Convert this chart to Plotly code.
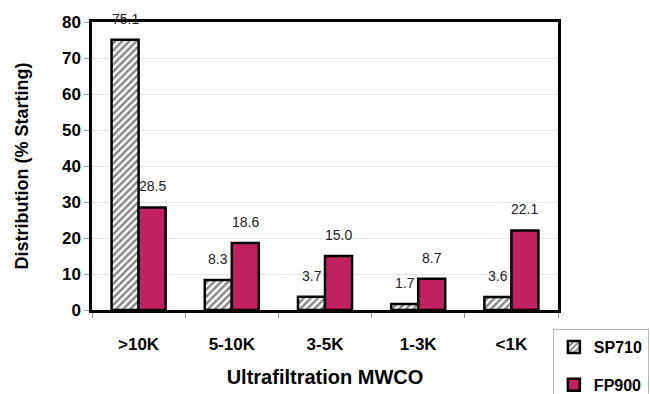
import plotly.graph_objects as go

categories = [">10K", "5-10K", "3-5K", "1-3K", "<1K"]
sp710 = [75.1, 8.3, 3.7, 1.7, 3.6]
fp900 = [28.5, 18.6, 15.0, 8.7, 22.1]
label_sp = ["75.1", "8.3", "3.7", "1.7", "3.6"]
label_fp = ["28.5", "18.6", "15.0", "8.7", "22.1"]

BOLD = "Liberation Sans, Arial, sans-serif"

fig = go.Figure()
fig.add_trace(go.Bar(
    name="SP710", x=categories, y=sp710, legendgroup="a",
    marker=dict(color="white", line=dict(color="black", width=2.5),
                pattern=dict(shape="/", fgcolor="#111111", bgcolor="white", size=5, solidity=0.5)),
))
fig.add_trace(go.Bar(
    name="FP900", x=categories, y=fp900, legendgroup="b",
    marker=dict(color="#C0215F", line=dict(color="black", width=2.5)),
))

annotations = []
for i, c in enumerate(categories):
    annotations.append(dict(x=c, y=sp710[i], xref="x", yref="y", text=label_sp[i],
                            showarrow=False, xshift=-13.5, yshift=21,
                            font=dict(family=BOLD, size=14, color="#222")))
    annotations.append(dict(x=c, y=fp900[i], xref="x", yref="y", text=label_fp[i],
                            showarrow=False, xshift=13.5, yshift=21,
                            font=dict(family=BOLD, size=14, color="#222")))

fig.update_layout(
    width=650, height=394,
    margin=dict(l=92, r=92, t=22, b=84, autoexpand=False),
    paper_bgcolor="white", plot_bgcolor="white",
    barmode="group", bargap=0.42, bargroupgap=0,
    font=dict(family=BOLD, color="black"),
    annotations=annotations,
    legend=dict(x=0.989, y=-0.066, xanchor="left", yanchor="top",
                bordercolor="#bbbbbb", borderwidth=1, bgcolor="white",
                font=dict(family=BOLD, size=16, color="black", weight="bold"),
                tracegroupgap=14),
    xaxis=dict(
        showline=True, linecolor="black", linewidth=2.5, mirror=True,
        ticks="outside", tickson="boundaries", ticklen=5, tickcolor="#999999",
        ticklabelstandoff=17,
        tickfont=dict(family=BOLD, size=17, color="black", weight="bold"),
        title=dict(text="Ultrafiltration MWCO", standoff=17,
                   font=dict(family=BOLD, size=20, color="black", weight="bold")),
    ),
    yaxis=dict(
        range=[0, 80], dtick=10, showgrid=True, gridcolor="#e2e6e8", gridwidth=1,
        showline=True, linecolor="black", linewidth=2.5, mirror=True,
        ticks="outside", ticklen=5, tickcolor="#999999", zeroline=False,
        tickfont=dict(family=BOLD, size=17, color="black", weight="bold"),
        title=dict(text="Distribution (% Starting)", standoff=29,
                   font=dict(family=BOLD, size=18, color="black", weight="bold")),
    ),
)

fig.write_html("out.html")
